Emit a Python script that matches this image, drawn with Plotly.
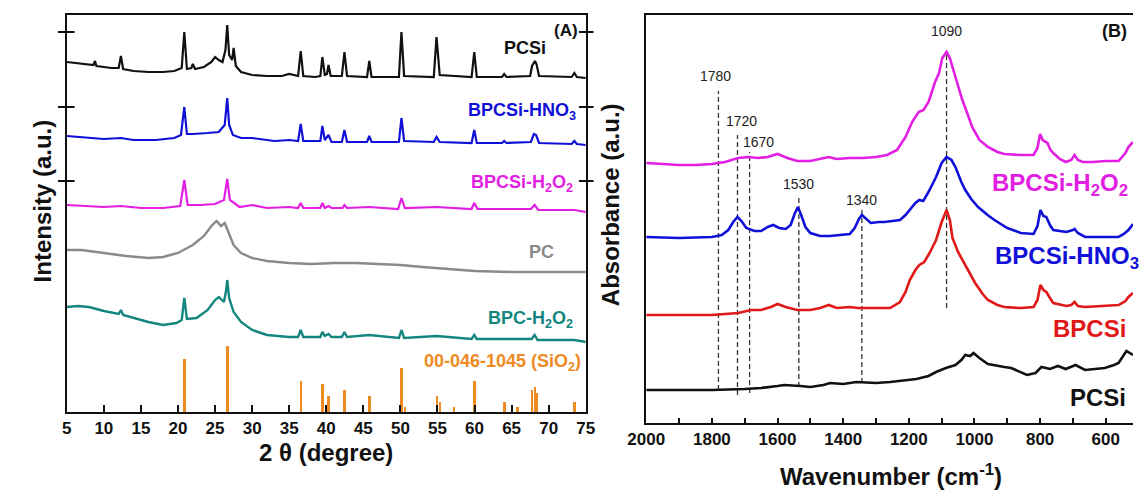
import plotly.graph_objects as go

W, H = 1142, 490

# ---------------- (A) XRD data ----------------
pcsi_x = [5, 6, 7, 8, 8.6, 8.8, 9.0, 10, 11, 12.0, 12.3, 12.6, 14, 16, 18, 19.5, 20.5, 20.85, 21.2, 21.8, 22.0, 22.3,
          23.5, 24.5, 25.0, 25.5, 26.0, 26.4, 26.64, 26.9, 27.3, 27.5, 27.8, 28.5, 30, 32, 34, 35, 36.2, 36.55, 36.9,
          38.5, 39.2, 39.47, 39.8, 40.1, 40.3, 40.6, 42.1, 42.45, 42.8, 45.5, 45.8, 46.1, 49.8, 50.14, 50.5, 54.5,
          54.87, 55.3, 59.6, 59.96, 60.3, 63.7, 64.0, 64.3, 67.5, 67.75, 68.15, 68.35, 68.7, 73.1, 73.47, 73.8, 75]
pcsi_y = [350, 349, 348, 347, 347, 351, 346, 345, 344, 344, 356, 343, 341, 340, 340, 341, 344, 380, 343, 344, 348, 343,
          345, 350, 355, 352, 350, 362, 387, 357, 352, 364, 346, 340, 337, 336, 336, 338, 336, 361, 336,
          335, 336, 355, 337, 338, 347, 336, 336, 360, 336, 335, 351, 335, 335, 380, 336, 335,
          375, 337, 335, 360, 335, 335, 338, 335, 336, 346, 351, 348, 336, 335, 339, 335, 334]

hno3_x = [5, 8, 10, 12.3, 14, 17, 19.5, 20.4, 20.85, 21.2, 22, 24, 25.5, 26.3, 26.64, 26.9, 27.4, 28.5, 30, 33, 35,
          36.2, 36.55, 36.9, 39.2, 39.47, 39.8, 40.3, 40.7, 42.1, 42.45, 42.8, 45.5, 45.8, 46.1, 49.8, 50.14, 50.5,
          54.5, 54.87, 55.3, 59.6, 59.96, 60.3, 63.7, 64.0, 64.3, 67.6, 68.0, 68.3, 68.7, 73.1, 73.47, 73.8, 75]
hno3_y = [276, 274, 273, 274, 272, 272, 274, 277, 305, 278, 278, 279, 280, 287, 314, 287, 277, 274, 274, 271, 272,
          271, 288, 271, 271, 286, 272, 277, 270, 270, 282, 270, 270, 276, 270, 270, 294, 271,
          270, 275, 270, 269, 282, 269, 269, 271, 269, 270, 278, 277, 269, 268, 271, 268, 267]

h2o2_x = [5, 8, 10, 12.3, 15, 18, 20.3, 20.85, 21.3, 23, 25, 26.2, 26.64, 27.0, 27.6, 28.3, 30, 32, 35, 36.2, 36.55,
          36.9, 39.2, 39.47, 39.8, 40.3, 40.7, 42.2, 42.45, 42.8, 45.8, 49.7, 50.14, 50.6, 54.87, 59.6, 59.96, 60.4,
          67.6, 68.1, 68.6, 73.47, 75]
h2o2_y = [207, 206, 205, 206, 204, 204, 206, 232, 207, 207, 208, 212, 233, 212, 209, 205, 207, 204, 205, 204, 209,
          204, 204, 209, 204, 206, 204, 204, 207, 204, 205, 203, 214, 204, 205, 203, 209, 203,
          203, 207, 202, 202, 200]

pc_x = [5, 7, 10, 13, 16, 18, 20, 22, 23.5, 24.5, 25.2, 25.8, 26.3, 26.8, 27.5, 28.5, 30, 32, 35, 38, 41, 44, 47,
        50, 53, 56, 60, 65, 70, 75]
pc_y = [162, 162, 159, 156, 154, 155, 159, 167, 176, 186, 191, 186, 189, 180, 167, 159, 154, 151, 149, 148, 149, 149,
        148, 147, 145, 143, 141, 140, 140, 140]

bpc_x = [5, 6.5, 8, 10, 12.0, 12.3, 12.6, 14, 16, 18, 19.8, 20.5, 20.85, 21.2, 22.5, 24, 25.0, 25.5, 26.2, 26.5,
         26.64, 26.9, 27.5, 28.5, 30, 32, 35, 36.2, 36.55, 36.9, 39.2, 39.47, 39.8, 40.3, 40.7, 42.1, 42.45, 42.8,
         45.8, 49.8, 50.14, 50.5, 54.87, 59.6, 59.96, 60.3, 67.7, 68.1, 68.5, 73.47, 75]
bpc_y = [105, 106, 105, 101, 98, 102, 97, 94, 90, 87, 89, 92, 114, 93, 94, 102, 112, 115, 110, 122,
         132, 114, 100, 90, 82, 77, 75, 75, 82, 75, 75, 80, 76, 78, 75, 75, 80, 75,
         77, 74, 82, 74, 76, 73, 77, 73, 73, 77, 72, 72, 70]

sio2_x = [20.85, 26.64, 36.54, 39.47, 40.29, 42.45, 45.79, 50.14, 50.62, 54.87, 55.33, 57.24, 59.96, 64.03, 65.79,
          67.74, 68.14, 68.31, 73.47]
sio2_y = [53, 66, 31, 28, 16, 22, 16, 44, 5, 16, 10, 5, 31, 10, 5, 22, 25, 19, 10]

xrd_marks = [380, 305, 231]          # y positions of the cross ticks on panel (A)
xrd_ticks = [5, 10, 15, 20, 25, 30, 35, 40, 45, 50, 55, 60, 65, 70, 75]

# ---------------- (B) FTIR data ----------------
mag_x = [2000, 1950, 1900, 1850, 1800, 1760, 1720, 1690, 1660, 1630, 1600, 1570, 1540, 1500, 1470, 1444, 1420, 1380,
         1340, 1300, 1266, 1236, 1210, 1190, 1170, 1155, 1140, 1120, 1108, 1098, 1085, 1075, 1067, 1050, 1037, 1020,
         1007, 985, 959, 930, 909, 860, 820, 808, 800, 792, 784, 778, 768, 760, 740, 722, 705, 695, 685, 670, 640,
         600, 561, 540, 531, 517]
mag_y = [260, 259, 258, 258, 259, 261, 265, 266, 265, 266, 269, 265, 262, 262, 264, 266, 264, 265,
         265, 266, 268, 273, 286, 301, 311, 313, 321, 341, 350, 365, 371, 365, 356, 338, 323, 308,
         296, 283, 276, 271, 269, 268, 268, 275, 289, 283, 281, 280, 273, 270, 264, 261, 263, 268, 263, 261, 261,
         262, 262, 270, 276, 281]

blu_x = [2000, 1900, 1800, 1770, 1750, 1735, 1722, 1710, 1695, 1670, 1650, 1630, 1613, 1595, 1575, 1560, 1548, 1538,
         1528, 1515, 1500, 1470, 1440, 1410, 1380, 1365, 1352, 1343, 1330, 1316, 1290, 1275, 1250, 1227, 1210, 1197,
         1180, 1168, 1156, 1140, 1117, 1100, 1085, 1070, 1058, 1040, 1028, 1010, 989, 960, 939, 900, 859, 820, 808,
         799, 790, 781, 770, 760, 720, 700, 695, 685, 663, 600, 561, 545, 531, 517]
blu_y = [186, 185, 186, 188, 193, 201, 206, 202, 195, 192, 192, 196, 198, 195, 194, 198, 209, 216,
         208, 196, 190, 187, 187, 188, 189, 195, 204, 208, 204, 200, 201, 201, 202, 203, 208, 213,
         220, 223, 222, 231, 246, 260, 266, 263, 256, 241, 233, 224, 216, 208, 203, 195, 190, 189, 197,
         213, 207, 206, 198, 193, 191, 193, 194, 190, 186, 186, 186, 189, 193, 199]

red_x = [2000, 1900, 1800, 1720, 1680, 1650, 1620, 1600, 1575, 1540, 1500, 1470, 1444, 1420, 1380, 1355, 1300, 1257,
         1227, 1210, 1197, 1180, 1168, 1153, 1135, 1117, 1100, 1085, 1075, 1067, 1050, 1028, 998, 975, 959, 930, 909,
         860, 820, 808, 799, 790, 781, 770, 760, 720, 705, 695, 685, 663, 600, 561, 540, 531, 517]
red_y = [108, 108, 108, 110, 113, 113, 116, 119, 116, 113, 113, 115, 118, 115, 116, 115, 115, 115,
         121, 131, 143, 153, 158, 161, 171, 183, 201, 213, 203, 185, 171, 158, 140, 129, 123, 118, 116,
         115, 116, 123, 138, 133, 131, 125, 120, 117, 118, 121, 117, 116, 117, 118, 122, 126, 130]

blk_x = [2000, 1900, 1800, 1700, 1650, 1600, 1580, 1530, 1500, 1460, 1440, 1400, 1360, 1300, 1257, 1177, 1140, 1117,
         1087, 1058, 1040, 1028, 1013, 1003, 985, 959, 930, 909, 888, 860, 840, 814, 796, 770, 746, 722, 692, 663,
         630, 603, 575, 561, 545, 537, 517]
blk_y = [33, 33, 33, 34, 35, 37, 38, 37, 36, 38, 40, 39, 41, 40, 41, 44, 47, 51,
         55, 58, 63, 68, 67, 70, 65, 59, 57, 56, 55, 51, 48, 50, 56, 54, 57, 54, 58, 53,
         54, 55, 58, 60, 68, 72, 68]

band_pos = [1780, 1722, 1685, 1535, 1343, 1085]
band_txt = ["1780", "1720", "1670", "1530", "1340", "1090"]
band_top = [332, 288, 271, 226, 215, 371]
band_bot = [33, 28, 30, 36, 40, 115]
band_lab_y = [347, 302, 281, 239, 223, 392]
band_lab_dx = [-3, 4, 9, 0, 0, 0]      # label offsets (px)

ftir_ticks = [2000, 1800, 1600, 1400, 1200, 1000, 800, 600]

# ---------------- figure ----------------
FONT = "Liberation Sans, Arial, sans-serif"
C_BLK, C_BLU, C_MAG, C_GRY, C_TEA, C_ORA, C_RED = "#111111", "#1010D8", "#E21EE2", "#8A8A8A", "#15867F", "#EE8A22", "#E01818"

fig = go.Figure()

def line(x, y, c, w, xa="x", ya="y"):
    fig.add_trace(go.Scatter(x=x, y=y, mode="lines", line=dict(color=c, width=w), xaxis=xa, yaxis=ya,
                             showlegend=False, hoverinfo="skip"))

line(pcsi_x, pcsi_y, C_BLK, 2.2)
line(hno3_x, hno3_y, C_BLU, 2.2)
line(h2o2_x, h2o2_y, C_MAG, 2.2)
line(pc_x, pc_y, C_GRY, 2.4)
line(bpc_x, bpc_y, C_TEA, 2.4)
fig.add_trace(go.Bar(x=sio2_x, y=sio2_y, width=0.32, marker=dict(color=C_ORA, line=dict(width=0)),
                     xaxis="x", yaxis="y", showlegend=False, hoverinfo="skip"))

line(mag_x, mag_y, C_MAG, 2.6, "x2", "y2")
line(blu_x, blu_y, C_BLU, 2.6, "x2", "y2")
line(red_x, red_y, C_RED, 2.6, "x2", "y2")
line(blk_x, blk_y, C_BLK, 2.6, "x2", "y2")

shapes = []
for p, t, b in zip(band_pos, band_top, band_bot):
    shapes.append(dict(type="line", xref="x2", yref="y2", x0=p, x1=p, y0=b, y1=t,
                       line=dict(color="#333333", width=1.3, dash="5px,3px"), layer="below"))
# cross ticks on panel (A)
for m in xrd_marks:
    shapes.append(dict(type="line", xref="paper", yref="y", x0=40 / W, x1=57 / W, y0=m, y1=m,
                       line=dict(color="#111111", width=2)))
    shapes.append(dict(type="line", xref="paper", yref="y", x0=574 / W, x1=589 / W, y0=m, y1=m,
                       line=dict(color="#111111", width=2)))

ann = []
def txt(x, y, s, c, size, xa="left", bold=True, xref="paper", yref="paper", angle=0, xshift=0):
    ann.append(dict(x=x, y=y, xref=xref, yref=yref, text=s, showarrow=False, xanchor=xa, yanchor="middle",
                    textangle=angle, xshift=xshift,
                    font=dict(family=FONT, size=size, color=c, weight="bold" if bold else "normal")))

# panel A labels
txt(542 / W, 1 - 48 / H, "PCSi", C_BLK, 18, "right")
txt(573 / W, 1 - 111 / H, "BPCSi-HNO<sub>3</sub>", C_BLU, 18, "right")
txt(570 / W, 1 - 183 / H, "BPCSi-H<sub>2</sub>O<sub>2</sub>", C_MAG, 18, "right")
txt(551 / W, 1 - 252 / H, "PC", C_GRY, 18, "right")
txt(570 / W, 1 - 319 / H, "BPC-H<sub>2</sub>O<sub>2</sub>", C_TEA, 18, "right")
txt(578 / W, 1 - 362 / H, "00-046-1045 (SiO<sub>2</sub>)", C_ORA, 18, "right")
txt(575 / W, 1 - 31 / H, "(A)", C_BLK, 17, "right")
# panel B labels
txt(1139 / W, 1 - 184 / H, "BPCSi-H<sub>2</sub>O<sub>2</sub>", C_MAG, 24, "right")
txt(998 / W, 1 - 257 / H, "BPCSi-HNO<sub>3</sub>", C_BLU, 24, "left")
txt(1137 / W, 1 - 328 / H, "BPCSi", C_RED, 24, "right")
txt(1137 / W, 1 - 397 / H, "PCSi", C_BLK, 24, "right")
txt(1138 / W, 1 - 31 / H, "(B)", C_BLK, 18, "right")
for p, s, ly, dx in zip(band_pos, band_txt, band_lab_y, band_lab_dx):
    txt(p, ly, s, "#222222", 14, "center", bold=False, xref="x2", yref="y2", xshift=dx)
# axis titles
txt(315 / W, 1 - 452 / H, "2 \u03b8 (degree)", C_BLK, 24, "center")
txt(894 / W, 1 - 475 / H, "Wavenumber (cm<sup>-1</sup>)", C_BLK, 24, "center")
txt(24 / W, 1 - 201 / H, "Intensity (a.u.)", C_BLK, 24, "center", angle=-90)
txt(606 / W, 1 - 205 / H, "Absorbance (a.u.)", C_BLK, 24, "center", angle=-90)

tickfont = dict(family=FONT, size=17, color="#111111", weight="bold")
fig.update_layout(
    width=W, height=H, margin=dict(l=0, r=0, t=0, b=0),
    paper_bgcolor="white", plot_bgcolor="white", showlegend=False, bargap=0,
    xaxis=dict(domain=[49 / W, 581 / W], range=[5, 75], tickvals=xrd_ticks, ticks="inside", ticklen=7,
               tickwidth=2, tickcolor="#111111", showline=True, linewidth=2, linecolor="#111111", mirror=True,
               showgrid=False, zeroline=False, tickfont=tickfont, anchor="y"),
    yaxis=dict(domain=[1 - 412 / H, 1 - 15 / H], range=[0, 397], showticklabels=False, ticks="",
               showline=True, linewidth=2, linecolor="#111111", mirror=True, showgrid=False, zeroline=False,
               anchor="x"),
    xaxis2=dict(domain=[643 / W, 1.0], range=[2000, 517], tickvals=ftir_ticks, ticks="inside", ticklen=5,
                tickwidth=1.5, tickcolor="#111111",
                minor=dict(dtick=100, ticks="inside", ticklen=5, tickwidth=1.5, tickcolor="#111111"),
                showline=True, linewidth=2, linecolor="#111111", mirror=True, showgrid=False, zeroline=False,
                tickfont=tickfont, anchor="y2"),
    yaxis2=dict(domain=[1 - 423 / H, 1 - 15 / H], range=[0, 408], showticklabels=False, ticks="",
                showline=True, linewidth=2, linecolor="#111111", mirror=False, showgrid=False, zeroline=False,
                anchor="x2"),
    shapes=shapes, annotations=ann,
)

fig.write_html("out.html")
